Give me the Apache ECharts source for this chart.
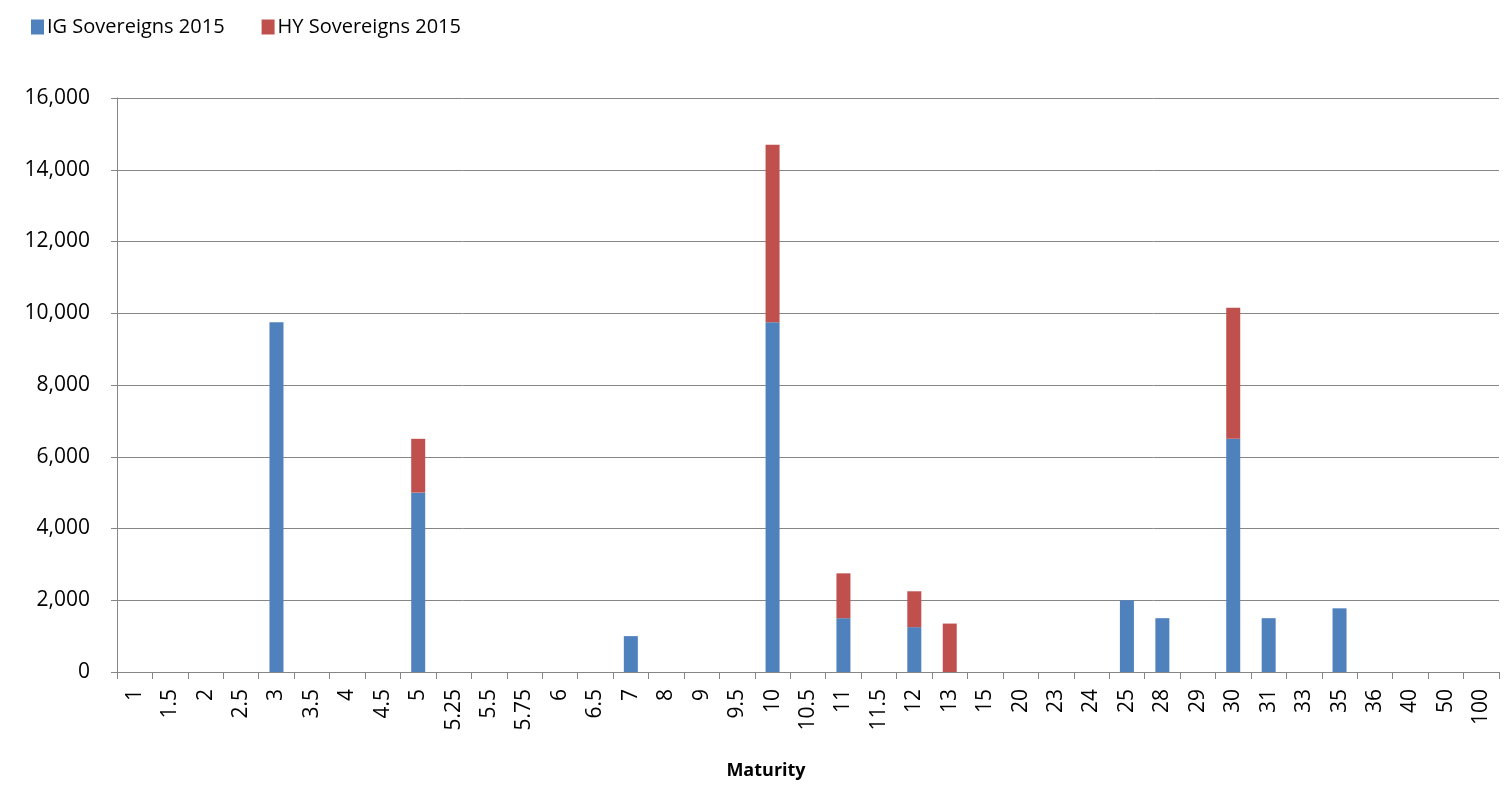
<!DOCTYPE html>
<html>
<head>
<meta charset="utf-8">
<script src="https://cdn.jsdelivr.net/npm/echarts@6/dist/echarts.min.js"></script>
<style>
  html, body { margin: 0; padding: 0; background: #fff; }
  #chart { width: 1508px; height: 785px; }
</style>
</head>
<body>
<div id="chart"></div>
<script>
// Maturity buckets (years)
const maturities = ['1', '1.5', '2', '2.5', '3', '3.5', '4', '4.5', '5', '5.25', '5.5', '5.75', '6', '6.5', '7', '8', '9', '9.5', '10', '10.5', '11', '11.5', '12', '13', '15', '20', '23', '24', '25', '28', '29', '30', '31', '33', '35', '36', '40', '50', '100'];

// Issuance volumes per maturity bucket
const igSovereigns2015 = [0, 0, 0, 0, 9750, 0, 0, 0, 5000, 0, 0, 0, 0, 0, 1000, 0, 0, 0, 9750, 0, 1500, 0, 1250, 0, 0, 0, 0, 0, 2000, 1500, 0, 6500, 1500, 0, 1775, 0, 0, 0, 0];
const hySovereigns2015 = [0, 0, 0, 0, 0, 0, 0, 0, 1500, 0, 0, 0, 0, 0, 0, 0, 0, 0, 4950, 0, 1250, 0, 1000, 1350, 0, 0, 0, 0, 0, 0, 0, 3650, 0, 0, 0, 0, 0, 0, 0];

const yTicks = { min: 0, max: 16000, interval: 2000 };

const FONT = 'Open Sans';
const chart = echarts.init(document.getElementById('chart'));

chart.setOption({
  animation: false,
  textStyle: { fontFamily: FONT, color: '#000' },
  legend: {
    left: 26,
    top: 12,
    icon: 'rect',
    itemWidth: 13,
    itemHeight: 15,
    itemGap: 37,
    textStyle: { fontFamily: FONT, fontSize: 20, color: '#000', padding: [0, 0, 0, -2] },
    data: ['IG Sovereigns 2015', 'HY Sovereigns 2015']
  },
  grid: { left: 117, right: 9, top: 98, bottom: 113, containLabel: false },
  xAxis: {
    type: 'category',
    data: maturities,
    name: 'Maturity',
    nameLocation: 'middle',
    nameGap: 90,
    nameTextStyle: { fontFamily: FONT, fontSize: 18, fontWeight: 'bold', color: '#000', padding: [0, 84, 0, 0] },
    axisLine: { lineStyle: { color: '#868686', width: 1 } },
    axisTick: { show: true, alignWithLabel: false, length: 7, lineStyle: { color: '#868686' } },
    axisLabel: { rotate: 90, interval: 0, fontSize: 21, color: '#000', margin: 17, fontFamily: FONT }
  },
  yAxis: {
    type: 'value',
    min: yTicks.min,
    max: yTicks.max,
    interval: yTicks.interval,
    axisLine: { show: true, lineStyle: { color: '#868686', width: 1 } },
    axisTick: { show: true, length: 6, lineStyle: { color: '#868686' } },
    splitLine: { lineStyle: { color: '#868686', width: 1 } },
    axisLabel: {
      fontSize: 21, color: '#000', margin: 27, fontFamily: FONT,
      formatter: v => v.toLocaleString('en-US')
    }
  },
  series: [
    {
      name: 'IG Sovereigns 2015',
      type: 'bar',
      stack: 'total',
      barWidth: 14,
      itemStyle: { color: '#4F81BD' },
      data: igSovereigns2015
    },
    {
      name: 'HY Sovereigns 2015',
      type: 'bar',
      stack: 'total',
      barWidth: 14,
      itemStyle: { color: '#C0504D' },
      data: hySovereigns2015
    }
  ]
});
</script>
</body>
</html>
